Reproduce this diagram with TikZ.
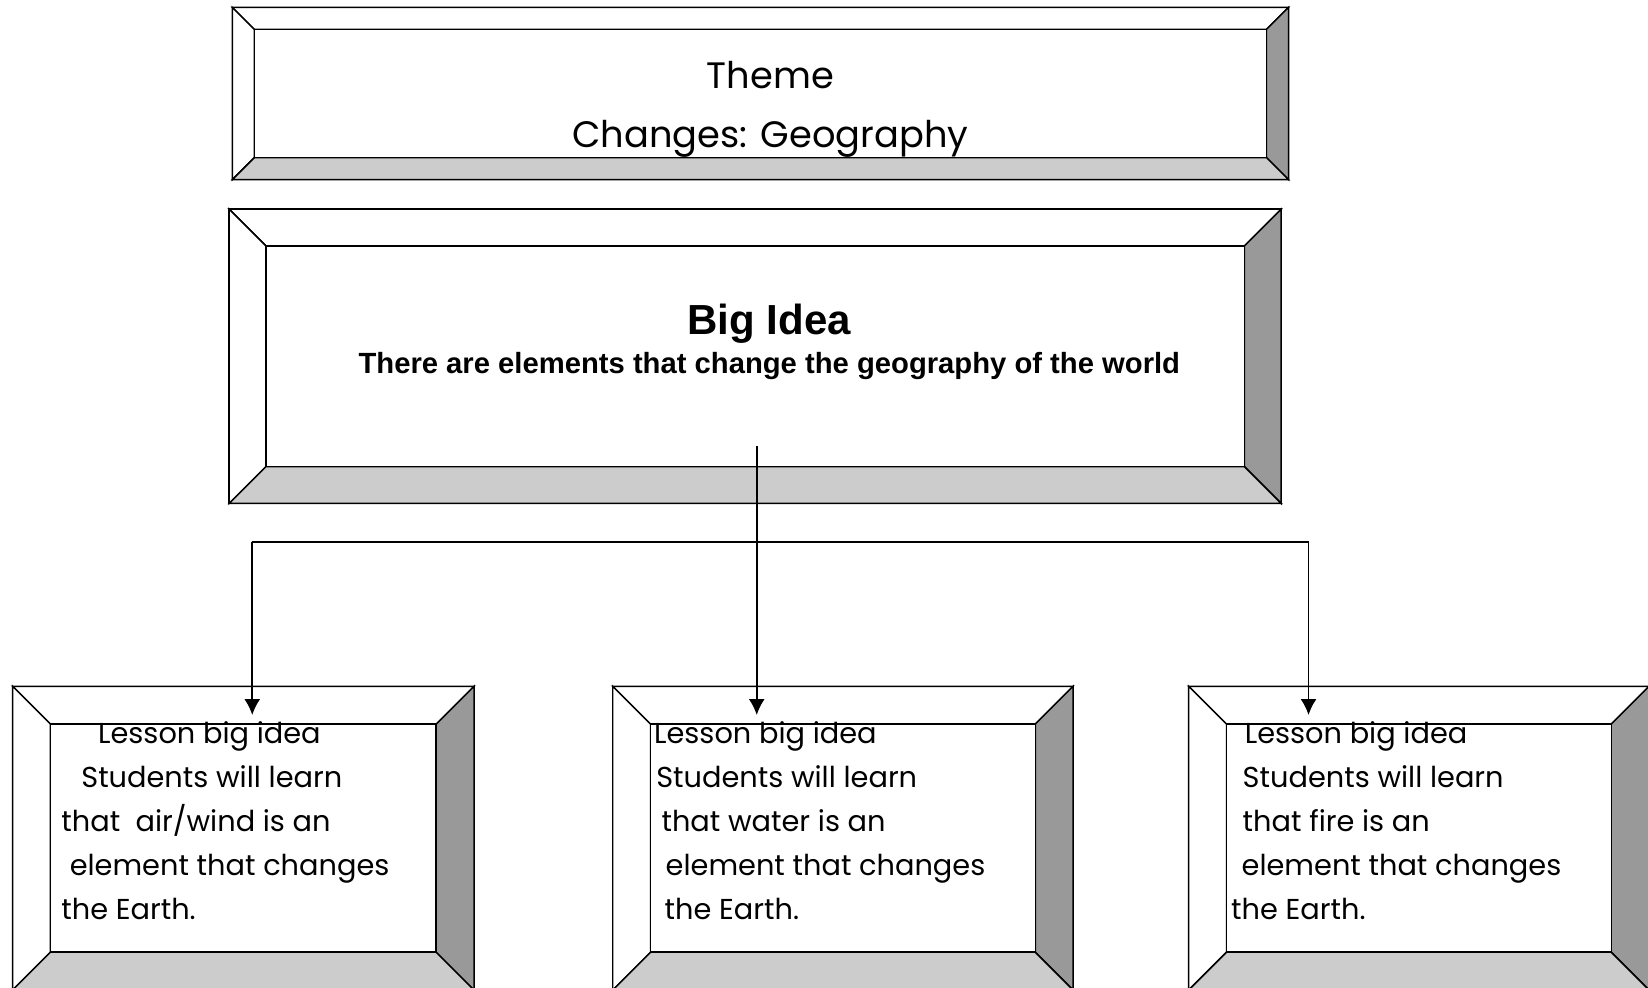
\documentclass[tikz,border=0pt]{standalone}
\usepackage{fontspec}
\setmainfont{Liberation Sans}
\newfontfamily\comicfont{Poppins}
\usetikzlibrary{arrows.meta,fit}

\definecolor{bevelside}{HTML}{999999}
\definecolor{bevelfoot}{HTML}{CCCCCC}

\tikzset{
  bevel/.style={draw=black, line width=0.7pt, line join=miter},
  link/.style={draw=black, line width=0.85pt},
  arrowlink/.style={link, -{Latex[length=7.5pt,width=7.5pt]}, shorten >=4pt},
  themetext/.style={anchor=base, inner sep=0pt, font=\comicfont\fontsize{17.5}{21}\selectfont},
  bigtext/.style={anchor=base, inner sep=0pt, font=\bfseries\fontsize{#1}{#1}\selectfont},
  lessontext/.style={anchor=base west, inner sep=0pt, font=\comicfont\fontsize{13.7}{17}\selectfont},
}

% bevelled frame: name, left, top, right, bottom, bevel depth
\newcommand{\bevelbox}[6]{%
  \filldraw[bevel, fill=white] (#2,#3) rectangle (#4,#5);
  \filldraw[bevel, fill=white] (#2,#3) -- (#4,#3) -- (#4-#6,#3+#6) -- (#2+#6,#3+#6) -- cycle;
  \filldraw[bevel, fill=white] (#2,#3) -- (#2+#6,#3+#6) -- (#2+#6,#5-#6) -- (#2,#5) -- cycle;
  \filldraw[bevel, fill=bevelside] (#4,#3) -- (#4,#5) -- (#4-#6,#5-#6) -- (#4-#6,#3+#6) -- cycle;
  \filldraw[bevel, fill=bevelfoot] (#2,#5) -- (#4,#5) -- (#4-#6,#5-#6) -- (#2+#6,#5-#6) -- cycle;
  \node[bevel, fill=white, inner sep=0pt, fit={(#2+#6,#3+#6) (#4-#6,#5-#6)}] (#1) {};
}

\begin{document}
\begin{tikzpicture}[x=0.5pt, y=-0.5pt]
  \useasboundingbox (0,0) rectangle (1568,940);

  % Theme banner
  \bevelbox{theme}{221}{7}{1226}{171}{21}
  \node[themetext] (themetitle) at (733,84) {Theme};
  \node[themetext] (themesub) at (733,140) {Changes: Geography};

  % Big idea
  \bevelbox{bigidea}{218}{199}{1219}{479}{35}
  \node[bigtext=20] (bigtitle) at (732,318) {Big Idea};
  \node[bigtext=13.9] (bigline) at (732,355) {There are elements that change the geography of the world};

  % Lesson boxes
  \bevelbox{air}{12}{653}{451}{942}{36}
  \bevelbox{water}{583}{653}{1021}{942}{36}
  \bevelbox{fire}{1131}{653}{1569}{942}{36}

  % Connectors
  \coordinate (split) at (720,424);
  \coordinate (forkL) at (240,516);
  \coordinate (forkR) at (1245,516);
  \draw[link] (forkL) -- (forkR);
  \draw[arrowlink] (split) -- (split |- water.north);
  \draw[arrowlink] (forkL) -- (forkL |- air.north);
  \draw[arrowlink] (forkR) -- (forkR |- fire.north);

  % Lesson texts
  \foreach \x/\txt [count=\i] in {93/Lesson big idea, 77/Students will learn, 58/{that\ \ air/wind is an}, 66/element that changes, 58/the Earth.}
    \node[lessontext] (air\i) at (\x,{707+42*(\i-1)}) {\txt};
  \foreach \x/\txt [count=\i] in {622/Lesson big idea, 624/Students will learn, 629/that water is an, 633/element that changes, 632/the Earth.}
    \node[lessontext] (water\i) at (\x,{707+42*(\i-1)}) {\txt};
  \foreach \x/\txt [count=\i] in {1184/Lesson big idea, 1182/Students will learn, 1182/that fire is an, 1181/element that changes, 1171/the Earth.}
    \node[lessontext] (fire\i) at (\x,{707+42*(\i-1)}) {\txt};
\end{tikzpicture}
\end{document}
